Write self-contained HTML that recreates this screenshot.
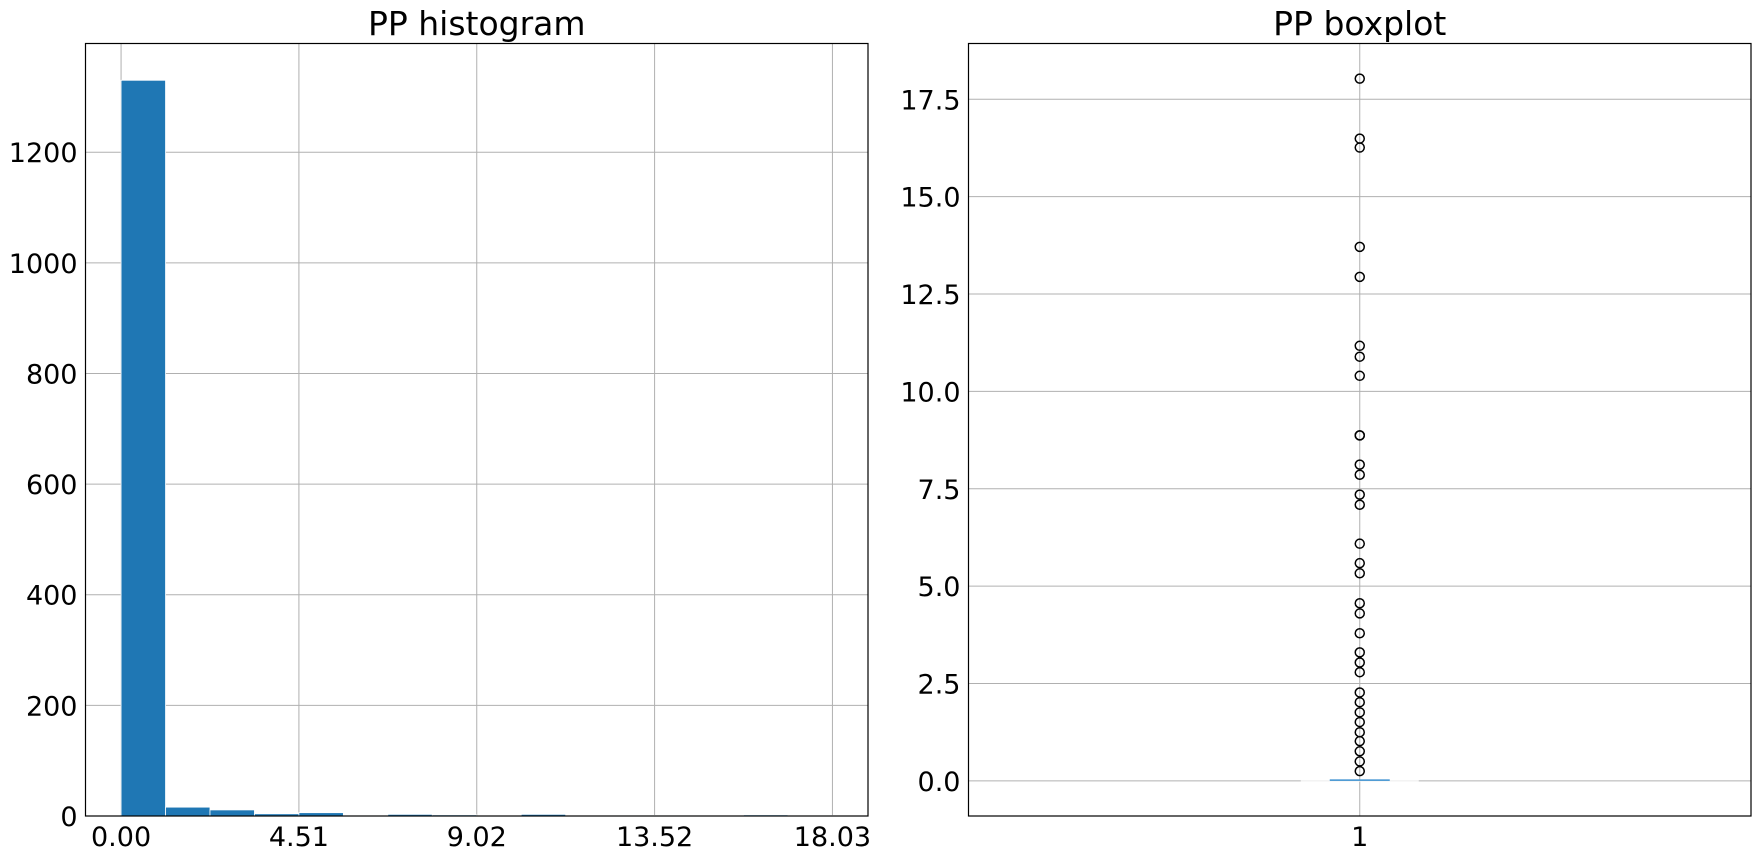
<!DOCTYPE html>
<html><head><meta charset="utf-8"><style>
html,body{margin:0;padding:0;background:#fff;}
svg{display:block;font-family:"DejaVu Sans","Liberation Sans",sans-serif;}
</style></head><body>
<svg id="fig" width="1760" height="859" viewBox="0 0 1760 859">
<g id="left"></g>
<g id="right"></g>
</svg>
<script>
const histCounts = [1330, 16, 11, 4, 6, 1, 3, 2, 0, 3, 0, 1, 1, 0, 2, 1];
const histMin = 0;
const histMax = 18.03;
const histXTicks = [0, 4.5075, 9.015, 13.5225, 18.03];
const histXTickLabels = ["0.00", "4.51", "9.02", "13.52", "18.03"];
const histYTicks = [0, 200, 400, 600, 800, 1000, 1200];
const boxOutliers = [18.03, 16.49, 16.26, 13.71, 12.94, 11.17, 10.89, 10.40, 8.87, 8.87, 8.12, 7.86, 7.35, 7.09, 6.09, 5.59, 5.33, 4.56, 4.30, 3.79, 3.30, 3.04, 2.79, 2.27, 2.02, 1.76, 1.51, 1.25, 1.02, 0.76, 0.50, 0.25];
const boxStats = [0, 0, 0.02, 0.03, 0.03]; // whisker-low, q1, median, q3, whisker-high
const boxYTicks = [0, 2.5, 5, 7.5, 10, 12.5, 15, 17.5];
const boxYTickLabels = ["0.0", "2.5", "5.0", "7.5", "10.0", "12.5", "15.0", "17.5"];

const NS = "http://www.w3.org/2000/svg";
function mk(parent, tag, attrs) {
  const e = document.createElementNS(NS, tag);
  for (const k in attrs) e.setAttribute(k, attrs[k]);
  parent.appendChild(e);
  return e;
}
const TOP = 43.5, BOT = 816;
const GRID = "#b0b0b0";
const FS = 27;

// ---------- Histogram ----------
const L = document.getElementById("left");
const lx0 = 85.5, lx1 = 868;
const margin = (histMax - histMin) * 0.05;
const hxMin = histMin - margin, hxMax = histMax + margin;
const hx = v => lx0 + (v - hxMin) / (hxMax - hxMin) * (lx1 - lx0);
const maxCount = Math.max(...histCounts);
const hyMax = maxCount * 1.05;
const hy = v => BOT - v / hyMax * (BOT - TOP);

histXTicks.forEach((t, i) => {
  const g = mk(L, "line", {x1: hx(t), x2: hx(t), y1: TOP, y2: BOT, stroke: GRID, "stroke-width": 1});
  
  
  const tx = mk(L, "text", {x: hx(t), y: 846, "font-size": FS, "text-anchor": "middle", fill: "#000"});
  tx.textContent = histXTickLabels[i];
  
  
});
histYTicks.forEach(t => {
  const g = mk(L, "line", {x1: lx0, x2: lx1, y1: hy(t), y2: hy(t), stroke: GRID, "stroke-width": 1});
  
  
  const tx = mk(L, "text", {x: lx0 - 8, y: hy(t) + 10, "font-size": FS, "text-anchor": "end", fill: "#000"});
  tx.textContent = String(t);
  
  
});
const bw = (histMax - histMin) / histCounts.length;
histCounts.forEach((c, i) => {
  if (c <= 0) return;
  const xa = hx(histMin + i * bw), xb = hx(histMin + (i + 1) * bw);
  const r = mk(L, "rect", {x: xa, y: hy(c), width: xb - xa, height: BOT - hy(c), fill: "#1f77b4", stroke: "#fff", "stroke-width": 0.8});
  
  
});
const lf = mk(L, "rect", {x: lx0, y: TOP, width: lx1 - lx0, height: BOT - TOP, fill: "none", stroke: "#000", "stroke-width": 1.2});


const lt = mk(L, "text", {x: (lx0 + lx1) / 2, y: 35, "font-size": 33, "text-anchor": "middle", fill: "#000"});
lt.textContent = "PP histogram";



// ---------- Boxplot ----------
const R = document.getElementById("right");
const rx0 = 968.5, rx1 = 1751;
const allMax = Math.max(...boxOutliers, boxStats[4]);
const allMin = Math.min(...boxOutliers, boxStats[0]);
const bm = (allMax - allMin) * 0.05;
const byMin = allMin - bm, byMax = allMax + bm;
const by = v => BOT - (v - byMin) / (byMax - byMin) * (BOT - TOP);
const cx = (rx0 + rx1) / 2;

const vg = mk(R, "line", {x1: cx, x2: cx, y1: TOP, y2: BOT, stroke: GRID, "stroke-width": 1});


boxYTicks.forEach((t, i) => {
  const g = mk(R, "line", {x1: rx0, x2: rx1, y1: by(t), y2: by(t), stroke: GRID, "stroke-width": 1});
  
  
  const tx = mk(R, "text", {x: rx0 - 8, y: by(t) + 10, "font-size": FS, "text-anchor": "end", fill: "#000"});
  tx.textContent = boxYTickLabels[i];
  
  
});
const xl = mk(R, "text", {x: cx, y: 846, "font-size": FS, "text-anchor": "middle", fill: "#000"});
xl.textContent = "1";



const capL = mk(R, "line", {x1: cx - 59, x2: cx + 59, y1: by(boxStats[0]), y2: by(boxStats[0]), stroke: "#f4f4f4", "stroke-width": 1.5});


const med = mk(R, "line", {x1: cx - 30, x2: cx + 30, y1: by(boxStats[2]), y2: by(boxStats[2]), stroke: "#3a8fd0", "stroke-width": 1.5});



boxOutliers.forEach(v => {
  const c = mk(R, "circle", {cx: cx, cy: by(v), r: 4.5, fill: "none", stroke: "#000", "stroke-width": 1.5});
  
  
});
const rf = mk(R, "rect", {x: rx0, y: TOP, width: rx1 - rx0, height: BOT - TOP, fill: "none", stroke: "#000", "stroke-width": 1.2});


const rt = mk(R, "text", {x: cx, y: 35, "font-size": 33, "text-anchor": "middle", fill: "#000"});
rt.textContent = "PP boxplot";


</script>
</body></html>
